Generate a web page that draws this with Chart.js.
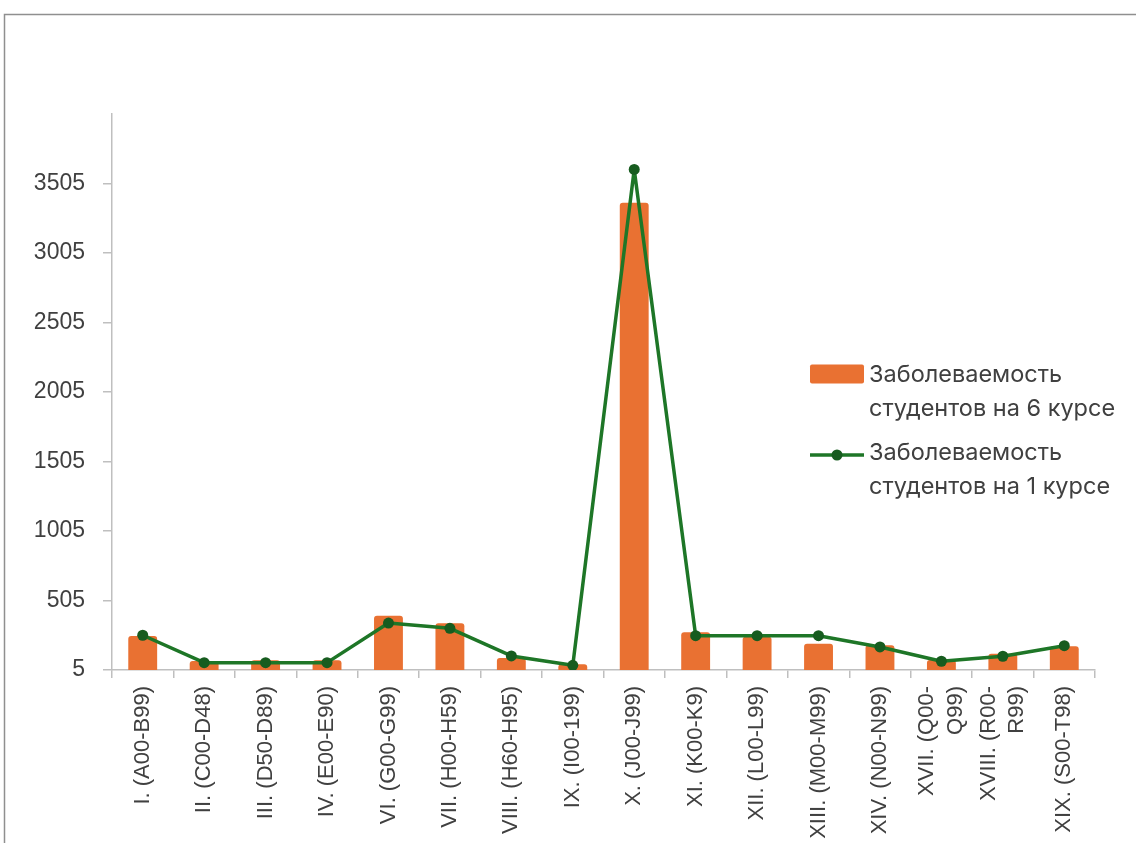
<!DOCTYPE html>
<html>
<head>
<meta charset="utf-8">
<style>
  html, body { margin: 0; padding: 0; background: #ffffff; }
  canvas { display: block; }
</style>
<script src="https://cdn.jsdelivr.net/npm/chart.js@4/dist/chart.umd.min.js"></script>
</head>
<body>
<canvas id="chart" width="1136" height="843"></canvas>
<script>
// ICD-10 disease classes
const categories = [
  'I. (A00-B99)', 'II. (C00-D48)', 'III. (D50-D89)', 'IV. (E00-E90)',
  'VI. (G00-G99)', 'VII. (H00-H59)', 'VIII. (H60-H95)', 'IX. (I00-199)',
  'X. (J00-J99)', 'XI. (K00-K9)', 'XII. (L00-L99)', 'XIII. (M00-M99)',
  'XIV. (N00-N99)', ['XVII. (Q00-', 'Q99)'], ['XVIII. (R00-', 'R99)'], 'XIX. (S00-T98)'
];

// Morbidity, 6th-year students (bars)
const course6 = [250, 70, 75, 75, 396, 341, 91, 46, 3366, 276, 245, 194, 183, 77, 122, 176];

// Morbidity, 1st-year students (line)
const course1 = [255, 58, 58, 58, 343, 305, 106, 39, 3606, 252, 252, 252, 171, 68, 104, 180];

// Value axis
const yTicks = [5, 505, 1005, 1505, 2005, 2505, 3005, 3505];
const yMin = 5;
const yMax = 4005;

const seriesNames = [
  ['Заболеваемость', 'студентов на 6 курсе'],
  ['Заболеваемость', 'студентов на 1 курсе']
];

const ORANGE = '#E97132';
const GREEN_LINE = '#1E7627';
const GREEN_POINT = '#175C1F';
const AXIS = '#BFBFBF';
const TEXT = '#404040';
const X_FONT_SIZE = 22;
const X_LINE_HEIGHT = 1.3;

// Thin frame along the top and left edges
const framePlugin = {
  id: 'frame',
  beforeDraw(chart) {
    const ctx = chart.ctx;
    ctx.save();
    ctx.strokeStyle = '#8F8F8F';
    ctx.lineWidth = 1.5;
    ctx.beginPath();
    ctx.moveTo(4.5, chart.height);
    ctx.lineTo(4.5, 14.5);
    ctx.lineTo(chart.width, 14.5);
    ctx.stroke();
    ctx.restore();
  }
};

// Center wrapped category labels on their tick instead of starting at it
const centerWrappedLabels = {
  id: 'centerWrappedLabels',
  beforeDraw(chart) {
    const scale = chart.scales.x;
    const items = scale.getLabelItems();
    const lh = X_FONT_SIZE * X_LINE_HEIGHT;
    items.forEach(item => {
      if (Array.isArray(item.label) && !item._centered) {
        item.options.translation[0] -= (item.label.length - 1) * lh / 2;
        item._centered = true;
      }
    });
  }
};

// Two-line legend placed over the right part of the plot
const legendPlugin = {
  id: 'sideLegend',
  afterDraw(chart) {
    const ctx = chart.ctx;
    const x0 = 810, markerW = 54, textX = 869;
    const lineGap = 34;
    ctx.save();
    ctx.font = '23.5px Inter, "Open Sans", sans-serif';
    ctx.textBaseline = 'middle';
    ctx.textAlign = 'left';

    // bar entry
    let y = 374;
    ctx.fillStyle = ORANGE;
    ctx.beginPath();
    ctx.roundRect(x0, y - 9.5, markerW, 19, 2);
    ctx.fill();
    ctx.fillStyle = TEXT;
    seriesNames[0].forEach((t, i) => ctx.fillText(t, textX, y + 1 + i * lineGap));

    // line entry
    y = 455;
    ctx.strokeStyle = GREEN_LINE;
    ctx.lineWidth = 3.5;
    ctx.beginPath();
    ctx.moveTo(x0, y);
    ctx.lineTo(x0 + markerW, y);
    ctx.stroke();
    ctx.fillStyle = GREEN_POINT;
    ctx.beginPath();
    ctx.arc(x0 + markerW / 2, y, 5.5, 0, Math.PI * 2);
    ctx.fill();
    ctx.fillStyle = TEXT;
    seriesNames[1].forEach((t, i) => ctx.fillText(t, textX, y - 2 + i * lineGap));
    ctx.restore();
  }
};

new Chart(document.getElementById('chart'), {
  data: {
    labels: categories,
    datasets: [
      {
        type: 'line',
        label: seriesNames[1].join(' '),
        data: course1,
        borderColor: GREEN_LINE,
        backgroundColor: GREEN_POINT,
        borderWidth: 3.5,
        borderJoinStyle: 'round',
        borderCapStyle: 'round',
        pointRadius: 5.5,
        pointBackgroundColor: GREEN_POINT,
        pointBorderColor: GREEN_POINT,
        pointBorderWidth: 0,
        tension: 0,
        order: 0
      },
      {
        type: 'bar',
        label: seriesNames[0].join(' '),
        data: course6,
        backgroundColor: ORANGE,
        borderRadius: 3,
        borderSkipped: 'bottom',
        barPercentage: 0.47,
        categoryPercentage: 1,
        order: 1
      }
    ]
  },
  options: {
    responsive: false,
    animation: false,
    devicePixelRatio: 1,
    layout: { padding: { top: 114, right: 41, left: 0, bottom: 0 } },
    plugins: {
      legend: { display: false },
      tooltip: { enabled: false }
    },
    scales: {
      x: {
        grid: {
          offset: true,
          drawOnChartArea: false,
          drawTicks: true,
          tickLength: 8,
          color: AXIS,
          lineWidth: 1.5
        },
        border: { color: AXIS, width: 1.5 },
        ticks: {
          autoSkip: false,
          maxRotation: 90,
          minRotation: 90,
          padding: 8,
          color: TEXT,
          font: { family: '"Liberation Sans", Arial, sans-serif', size: X_FONT_SIZE, lineHeight: X_LINE_HEIGHT }
        },
        afterFit(scale) { scale.height = 173; }
      },
      y: {
        min: yMin,
        max: yMax,
        afterBuildTicks(scale) {
          scale.ticks = yTicks.map(v => ({ value: v }));
        },
        grid: {
          drawOnChartArea: false,
          drawTicks: true,
          tickLength: 9,
          color: AXIS,
          lineWidth: 1.5
        },
        border: { color: AXIS, width: 1.5 },
        ticks: {
          padding: 18,
          color: TEXT,
          font: { family: '"Liberation Sans", Arial, sans-serif', size: 23 },
          callback: (v) => String(v)
        },
        afterFit(scale) { scale.width = 112; }
      }
    }
  },
  plugins: [framePlugin, centerWrappedLabels, legendPlugin]
});
</script>
</body>
</html>
